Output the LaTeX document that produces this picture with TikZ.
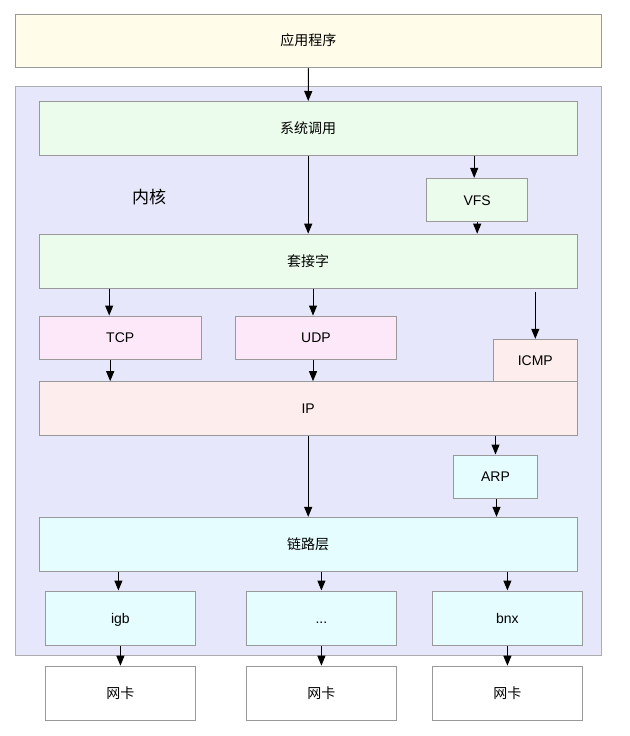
\documentclass[tikz,border=0pt]{standalone}
\usepackage{fontspec}
\setmainfont{Liberation Sans}
\newfontfamily\cjk{Noto Sans CJK SC}
\usepackage{xcolor}
\usetikzlibrary{arrows.meta, positioning, calc}

\definecolor{appyellow}{HTML}{FFFDE9}
\definecolor{kernelblue}{HTML}{E7E7FB}
\definecolor{sysgreen}{HTML}{EBFCEC}
\definecolor{transpink}{HTML}{FDE8F9}
\definecolor{netred}{HTML}{FDEDED}
\definecolor{linkcyan}{HTML}{E5FDFE}
\definecolor{edgegray}{HTML}{999999}

\begin{document}
\begin{tikzpicture}[x=1pt, y=-1pt, font=\fontsize{14}{16}\selectfont,
  box/.style={rectangle, draw=edgegray, line width=1pt, inner sep=0pt, align=center, text height=12pt, text depth=2pt},
  wide/.style={box, minimum width=537.7pt, minimum height=54pt},
  small/.style={box, minimum height=43.3pt},
  card/.style={box, minimum width=150.7pt, minimum height=54pt},
  arr/.style={-{Triangle[length=10pt, width=8pt]}, line width=1pt}]

\useasboundingbox (0,0) rectangle (629,736);

% user space and kernel frame
\node[box, fill=appyellow, minimum width=585.3pt, minimum height=53.7pt] (app) at (308.4,40.9) {\cjk 应用程序};
\node[box, draw=edgegray!80, fill=kernelblue, minimum width=585.3pt, minimum height=568.6pt] (kernel) at (308.4,371) {};
\node (kernellbl) at (149,197) {\cjk\fontsize{17}{20}\selectfont 内核};

% kernel layers
\node[wide, fill=sysgreen] (syscall) at (308.2,128.5) {\cjk 系统调用};
\node[small, fill=sysgreen, minimum width=101pt] (vfs) at (477.2,200) {VFS};
\node[wide, fill=sysgreen] (socket) at (308.2,261.2) {\cjk 套接字};
\node[small, fill=transpink, minimum width=161.7pt] (tcp) at (120.2,337.7) {TCP};
\node[small, fill=transpink, minimum width=161.4pt] (udp) at (316,337.7) {UDP};
\node[small, fill=netred, minimum width=84pt, minimum height=42.4pt] (icmp) at (535.3,360.5) {ICMP};
\node[wide, fill=netred] (ip) at (308.2,408.7) {IP};
\node[small, fill=linkcyan, minimum width=84.4pt, minimum height=43pt] (arp) at (495.5,476.5) {ARP};
\node[wide, fill=linkcyan, minimum height=53.7pt] (link) at (308.2,544.2) {\cjk 链路层};

% drivers and cards
\node[card, fill=linkcyan] (igb) at (120.4,618) {igb};
\node[card, fill=linkcyan] (etc) at (321.4,618) {...};
\node[card, fill=linkcyan] (bnx) at (507.4,618) {bnx};
\node[card, fill=white] (nic1) at (120.4,693.2) {\cjk 网卡};
\node[card, fill=white] (nic2) at (321.4,693.2) {\cjk 网卡};
\node[card, fill=white] (nic3) at (507.4,693.2) {\cjk 网卡};

\draw[arr] (app.south) -- (syscall.north);
\draw[arr] ([xshift=-3pt]vfs.north |- syscall.south) -- ([xshift=-3pt]vfs.north);
\draw[arr] (syscall.south) -- (socket.north);
\draw[arr] (vfs.south) -- (vfs.south |- socket.north);
\draw[arr] ([xshift=-11pt]tcp.north |- socket.south) -- ([xshift=-11pt]tcp.north);
\draw[arr] ([xshift=-3pt]udp.north |- socket.south) -- ([xshift=-3pt]udp.north);
\draw[arr] ([yshift=-3pt]icmp.north |- socket.south) -- (icmp.north);
\draw[arr] ([xshift=-10pt]tcp.south) -- ([xshift=-10pt]tcp.south |- ip.north);
\draw[arr] ([xshift=-3pt]udp.south) -- ([xshift=-3pt]udp.south |- ip.north);
\draw[arr] (arp.north |- ip.south) -- (arp.north);
\draw[arr] (ip.south) -- (link.north);
\draw[arr] ([xshift=1pt]arp.south) -- ([xshift=1pt]arp.south |- link.north);
\draw[arr] ([xshift=-2pt]igb.north |- link.south) -- ([xshift=-2pt]igb.north);
\draw[arr] (etc.north |- link.south) -- (etc.north);
\draw[arr] (bnx.north |- link.south) -- (bnx.north);
\draw[arr] (igb.south) -- (nic1.north);
\draw[arr] (etc.south) -- (nic2.north);
\draw[arr] (bnx.south) -- (nic3.north);

\end{tikzpicture}
\end{document}
